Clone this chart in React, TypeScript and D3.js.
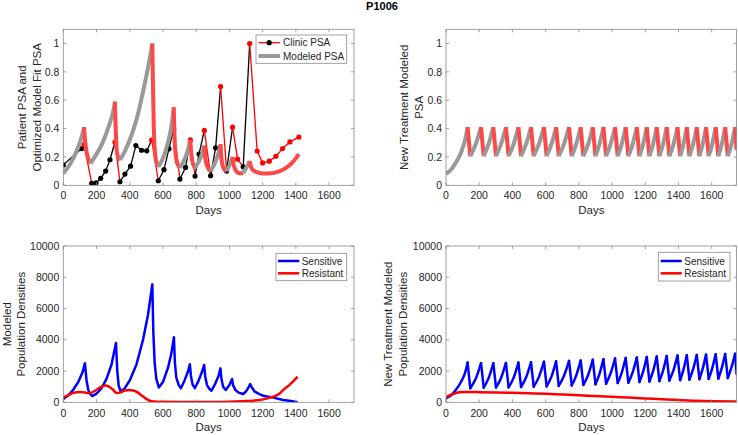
import React from "react";
import * as d3 from "d3";

// ---------------- DATA ----------------
const titleText = "P1006";
const xTicks = [0, 200, 400, 600, 800, 1000, 1200, 1400, 1600];
const psaTicks = [0, 0.2, 0.4, 0.6, 0.8, 1];
const popTicks = [0, 2000, 4000, 6000, 8000, 10000];

// Clinic PSA (top-left)
const clinicDays = [0, 111, 125, 171, 197, 225, 255, 281, 311, 341, 371, 405, 437, 471, 502, 532, 572, 606, 636, 665, 702, 736, 765, 793, 817, 849, 887, 917, 947, 983, 1019, 1049, 1083, 1122, 1167, 1200, 1240, 1280, 1320, 1364, 1418];
const clinicPSA = [0.144, 0.259, 0.287, 0.014, 0.018, 0.049, 0.10, 0.18, 0.305, 0.025, 0.079, 0.135, 0.28, 0.247, 0.243, 0.318, 0.032, 0.11, 0.257, 0.40, 0.044, 0.126, 0.32, 0.065, 0.22, 0.387, 0.068, 0.264, 0.696, 0.10, 0.41, 0.184, 0.13, 1.0, 0.242, 0.158, 0.17, 0.205, 0.259, 0.306, 0.34];
const clinicOn = [0, 0, 1, 0, 0, 0, 0, 0, 1, 0, 0, 0, 0, 0, 0, 1, 0, 0, 0, 1, 0, 0, 1, 0, 0, 1, 0, 0, 1, 0, 1, 1, 0, 1, 1, 1, 1, 1, 1, 1, 1];

// Modeled PSA (top-left)
const modelDays = [0, 30, 60, 90, 110, 125, 130, 137, 147, 155, 165, 200, 240, 275, 300, 311, 314, 318, 322, 330, 341, 370, 400, 440, 480, 510, 536, 540, 544, 549, 556, 572, 600, 630, 650, 665, 668, 672, 678, 688, 702, 725, 745, 765, 769, 775, 783, 793, 815, 835, 849, 853, 860, 872, 887, 910, 930, 947, 951, 958, 970, 983, 1000, 1019, 1024, 1032, 1045, 1060, 1083, 1100, 1122, 1130, 1145, 1170, 1210, 1250, 1290, 1330, 1370, 1400, 1418];
const modelPSA = [0.084, 0.13, 0.19, 0.27, 0.34, 0.41, 0.33, 0.26, 0.20, 0.175, 0.155, 0.22, 0.31, 0.42, 0.52, 0.59, 0.45, 0.32, 0.24, 0.20, 0.178, 0.24, 0.32, 0.46, 0.66, 0.83, 1.0, 0.7, 0.45, 0.28, 0.19, 0.13, 0.19, 0.30, 0.41, 0.55, 0.40, 0.28, 0.20, 0.15, 0.125, 0.17, 0.23, 0.32, 0.24, 0.18, 0.145, 0.125, 0.165, 0.22, 0.28, 0.21, 0.16, 0.12, 0.10, 0.15, 0.21, 0.29, 0.20, 0.145, 0.11, 0.10, 0.14, 0.20, 0.15, 0.12, 0.095, 0.085, 0.085, 0.12, 0.17, 0.13, 0.105, 0.09, 0.083, 0.085, 0.095, 0.115, 0.15, 0.19, 0.22];
const treatStart = [125, 311, 536, 665, 765, 849, 947, 1019, 1122];
const treatEnd = [165, 341, 572, 702, 793, 887, 983, 1083, 1418];

// New treatment schedule (right column)
const cyclePeakDays = [130, 211, 285, 361, 436, 512, 590, 663, 741, 811, 884, 948, 1018, 1082, 1149, 1209, 1269, 1329, 1394, 1450, 1510, 1566, 1624, 1681, 1741];
const cycleOffDays = [146, 227, 301, 377, 452, 528, 606, 679, 757, 827, 900, 964, 1034, 1098, 1165, 1225, 1285, 1345, 1410, 1466, 1526, 1582, 1640, 1697, 1750];
const riseMidDays = [179, 256, 331, 407, 482, 559, 635, 710, 784, 856, 924, 991, 1058, 1124, 1187, 1247, 1307, 1370, 1430, 1488, 1546, 1603, 1661, 1719];

// New treatment modeled PSA (top-right)
const ntInitDays = [0, 30, 60, 90, 115, 130];
const ntInitPSA = [0.08, 0.11, 0.16, 0.23, 0.32, 0.41];
const ntPeakPSA = [0.41, 0.41, 0.41, 0.41, 0.41, 0.41, 0.41, 0.41, 0.41, 0.41, 0.41, 0.41, 0.41, 0.41, 0.41, 0.41, 0.41, 0.41, 0.41, 0.41, 0.41, 0.41, 0.41, 0.41, 0.41];
const ntTroughPSA = [0.205, 0.205, 0.205, 0.205, 0.205, 0.205, 0.205, 0.205, 0.205, 0.205, 0.205, 0.205, 0.205, 0.205, 0.205, 0.205, 0.205, 0.205, 0.205, 0.205, 0.205, 0.205, 0.205, 0.205, 0.25];
const ntMidPSA = [0.29, 0.29, 0.29, 0.29, 0.29, 0.29, 0.29, 0.29, 0.29, 0.29, 0.29, 0.29, 0.29, 0.29, 0.29, 0.29, 0.29, 0.29, 0.29, 0.29, 0.29, 0.29, 0.29, 0.29];

// New treatment population (bottom-right)
const brInitDays = [0, 30, 60, 90, 115, 130];
const brInitSens = [250, 450, 800, 1300, 1900, 2550];
const brPeakSens = [2550, 2500, 2500, 2520, 2540, 2560, 2600, 2620, 2650, 2680, 2720, 2760, 2800, 2840, 2870, 2900, 2930, 2960, 2990, 3010, 3030, 3050, 3070, 3090, 3100];
const brTroughSens = [900, 940, 950, 960, 980, 1000, 1020, 1050, 1080, 1110, 1150, 1190, 1230, 1260, 1300, 1330, 1360, 1390, 1420, 1450, 1480, 1500, 1520, 1550, 1800];
const brMidSens = [1500, 1530, 1540, 1560, 1590, 1610, 1640, 1680, 1710, 1750, 1800, 1840, 1890, 1920, 1960, 1990, 2020, 2060, 2090, 2120, 2150, 2170, 2200, 2230];
const brResDays = [0, 40, 80, 120, 200, 300, 400, 500, 600, 700, 800, 900, 1000, 1100, 1200, 1300, 1400, 1500, 1600, 1750];
const brResVals = [330, 520, 640, 660, 650, 630, 610, 580, 550, 500, 450, 400, 350, 300, 250, 190, 140, 100, 70, 45];

// Fitted population (bottom-left)
const blSensDays = [0, 30, 60, 90, 115, 130, 140, 150, 160, 175, 200, 230, 260, 290, 317, 325, 333, 345, 370, 400, 440, 480, 510, 536, 542, 550, 560, 575, 600, 630, 650, 666, 672, 680, 695, 708, 730, 750, 762, 768, 778, 792, 815, 835, 848, 855, 865, 880, 892, 915, 935, 946, 952, 962, 978, 1000, 1016, 1022, 1035, 1055, 1083, 1100, 1115, 1125, 1135, 1153, 1180, 1203, 1264, 1324, 1370, 1410];
const blSensVals = [213, 450, 800, 1300, 1900, 2500, 1400, 800, 550, 400, 550, 900, 1500, 2400, 3800, 2000, 1100, 680, 900, 1400, 2400, 4000, 5600, 7550, 4500, 2500, 1500, 950, 1300, 2200, 3100, 4160, 2500, 1600, 1100, 900, 1400, 1950, 2430, 1700, 1150, 900, 1400, 1950, 2390, 1600, 1100, 850, 740, 1200, 1700, 2170, 1500, 1000, 790, 1100, 1490, 1100, 800, 620, 530, 700, 950, 1170, 950, 680, 520, 420, 300, 150, 80, 10];
const blResDays = [0, 30, 60, 100, 130, 150, 170, 200, 230, 255, 275, 300, 320, 340, 370, 395, 420, 445, 470, 495, 520, 545, 600, 700, 800, 900, 1000, 1100, 1183, 1230, 1264, 1300, 1324, 1360, 1390, 1410];
const blResVals = [300, 450, 600, 660, 620, 590, 620, 800, 1000, 1070, 1000, 800, 600, 620, 750, 790, 760, 650, 450, 250, 100, 50, 30, 20, 20, 25, 40, 80, 150, 250, 360, 550, 790, 1100, 1400, 1640];

// ---------------- STYLE ----------------
const FONT = "'Liberation Sans', Arial, Helvetica, sans-serif";
const TXT = "#262626";
const AXC = "#8a8a8a";
const GRAY = "#999999";
const LRED = "#ff4747";
const RED = "#ff0000";
const BLUE = "#0000ff";

type Box = { l: number; r: number; t: number; b: number };
const TL: Box = { l: 63.3, r: 354, t: 29.3, b: 185.3 };
const TR: Box = { l: 446, r: 736.6, t: 29.3, b: 185.3 };
const BL: Box = { l: 63.3, r: 354, t: 246, b: 402.3 };
const BR: Box = { l: 446, r: 736.6, t: 246, b: 402.3 };

type Pt = [number, number];

function Frame(props: {
  b: Box; id: string; x: any; y: any; yTicks: number[];
  ylabels: string[]; ylabX: number[]; xlabY: number; tickY: number;
  children?: any;
}) {
  const { b, id, x, y, yTicks, ylabels, ylabX, xlabY, tickY } = props;
  const tl = 3;
  const cy = (b.t + b.b) / 2;
  return (
    <g>
      <defs>
        <clipPath id={id}>
          <rect x={b.l} y={b.t} width={b.r - b.l} height={b.b - b.t} />
        </clipPath>
      </defs>
      <g clipPath={`url(#${id})`}>{props.children}</g>
      <rect x={b.l} y={b.t} width={b.r - b.l} height={b.b - b.t} fill="none" stroke={AXC} strokeWidth={0.8} />
      {xTicks.map((t) => (
        <g key={"x" + t}>
          <line x1={x(t)} x2={x(t)} y1={b.b} y2={b.b - tl} stroke={AXC} strokeWidth={0.8} />
          <line x1={x(t)} x2={x(t)} y1={b.t} y2={b.t + tl} stroke={AXC} strokeWidth={0.8} />
          <text x={x(t)} y={tickY} textAnchor="middle" fontSize={10.5} fill={TXT} fontFamily={FONT}>{t}</text>
        </g>
      ))}
      {yTicks.map((t) => (
        <g key={"y" + t}>
          <line x1={b.l} x2={b.l + tl} y1={y(t)} y2={y(t)} stroke={AXC} strokeWidth={0.8} />
          <line x1={b.r} x2={b.r - tl} y1={y(t)} y2={y(t)} stroke={AXC} strokeWidth={0.8} />
          <text x={b.l - 4} y={y(t) + 3.7} textAnchor="end" fontSize={10.5} fill={TXT} fontFamily={FONT}>{t}</text>
        </g>
      ))}
      <text x={(b.l + b.r) / 2} y={xlabY} textAnchor="middle" fontSize={11.5} fill={TXT} fontFamily={FONT}>Days</text>
      {ylabels.map((s, i) => (
        <text key={s} transform={`translate(${ylabX[i]},${cy}) rotate(-90)`} textAnchor="middle" fontSize={11.5} fill={TXT} fontFamily={FONT}>{s}</text>
      ))}
    </g>
  );
}

function pieces(days: number[], vals: number[], starts: number[], ends: number[]) {
  const bounds = Array.from(new Set([days[0], ...starts, ...ends, days[days.length - 1]])).sort((a, b) => a - b);
  const out: { pts: Pt[]; on: boolean }[] = [];
  for (let k = 0; k < bounds.length - 1; k++) {
    const a = bounds[k], bb = bounds[k + 1];
    const pts: Pt[] = [];
    days.forEach((d, i) => { if (d >= a && d <= bb) pts.push([d, vals[i]]); });
    if (pts.length < 2) continue;
    const on = starts.some((s, i) => s <= a && bb <= ends[i]);
    out.push({ pts, on });
  }
  return out;
}

export default function App() {
  const xTL = d3.scaleLinear().domain([0, 1750]).range([TL.l, TL.r]);
  const yTL = d3.scaleLinear().domain([0, 1.1]).range([TL.b, TL.t]);
  const xTR = d3.scaleLinear().domain([0, 1750]).range([TR.l, TR.r]);
  const yTR = d3.scaleLinear().domain([0, 1.1]).range([TR.b, TR.t]);
  const xBL = d3.scaleLinear().domain([0, 1750]).range([BL.l, BL.r]);
  const yBL = d3.scaleLinear().domain([0, 10000]).range([BL.b, BL.t]);
  const xBR = d3.scaleLinear().domain([0, 1750]).range([BR.l, BR.r]);
  const yBR = d3.scaleLinear().domain([0, 10000]).range([BR.b, BR.t]);

  const mk = (x: any, y: any, smooth: boolean) =>
    d3.line<Pt>().x((d) => x(d[0])).y((d) => y(d[1])).curve(smooth ? d3.curveMonotoneX : d3.curveLinear);

  // top-left model pieces
  const modelPieces = pieces(modelDays, modelPSA, treatStart, treatEnd);
  const lineTL = mk(xTL, yTL, true);
  const lineTLlin = mk(xTL, yTL, false);

  // top-right pieces
  const ntPieces: { pts: Pt[]; on: boolean }[] = [];
  ntPieces.push({ pts: ntInitDays.map((d, i) => [d, ntInitPSA[i]] as Pt), on: false });
  cyclePeakDays.forEach((p, i) => {
    ntPieces.push({ pts: [[p, ntPeakPSA[i]], [cycleOffDays[i], ntTroughPSA[i]]], on: true });
    if (i < cyclePeakDays.length - 1) {
      ntPieces.push({ pts: [[cycleOffDays[i], ntTroughPSA[i]], [riseMidDays[i], ntMidPSA[i]], [cyclePeakDays[i + 1], ntPeakPSA[i + 1]]], on: false });
    }
  });
  const lineTR = mk(xTR, yTR, false);
  const lineTRs = mk(xTR, yTR, true);

  // bottom-right blue: rises smooth, drops straight
  const lineBR = mk(xBR, yBR, false);
  const lineBRs = mk(xBR, yBR, true);
  const brSensPieces: Pt[][] = [];
  brSensPieces.push(brInitDays.map((d, i) => [d, brInitSens[i]] as Pt));
  cyclePeakDays.forEach((p, i) => {
    brSensPieces.push([[p, brPeakSens[i]], [cycleOffDays[i], brTroughSens[i]]]);
    if (i < cyclePeakDays.length - 1) {
      brSensPieces.push([[cycleOffDays[i], brTroughSens[i]], [riseMidDays[i], brMidSens[i]], [cyclePeakDays[i + 1], brPeakSens[i + 1]]]);
    }
  });

  const lineBL = mk(xBL, yBL, false);
  const lineBLs = mk(xBL, yBL, true);

  const clinicPts = clinicDays.map((d, i) => [d, clinicPSA[i]] as Pt);

  return (
    <svg width={738} height={435} style={{ position: "absolute", left: 0, top: 0, background: "#fff" }} fontFamily={FONT}>
      <rect x={0} y={0} width={738} height={435} fill="#fff" />
      <text x={382} y={9.5} textAnchor="middle" fontSize={11} fontWeight="bold" fill="#000" fontFamily={FONT}>{titleText}</text>

      {/* Top-left */}
      <Frame b={TL} id="cTL" x={xTL} y={yTL} yTicks={psaTicks} ylabels={["Patient PSA and", "Optimized Model Fit PSA"]} ylabX={[25.5, 40.5]} xlabY={213.5} tickY={199}>
        {clinicPts.slice(0, -1).map((p, i) => (
          <line key={"cs" + i} x1={xTL(p[0])} y1={yTL(p[1])} x2={xTL(clinicPts[i + 1][0])} y2={yTL(clinicPts[i + 1][1])} stroke={clinicOn[i] ? RED : "#000"} strokeWidth={1.3} />
        ))}
        {clinicPts.map((p, i) => (
          <circle key={"cp" + i} cx={xTL(p[0])} cy={yTL(p[1])} r={2.6} fill={clinicOn[i] ? RED : "#000"} />
        ))}
        {modelPieces.map((pc, i) => (
          <path key={"m" + i} d={(pc.pts.length > 2 ? lineTL : lineTLlin)(pc.pts) || ""} fill="none" stroke={pc.on ? LRED : GRAY} strokeWidth={4} strokeLinejoin="round" />
        ))}
      </Frame>
      <g>
        <rect x={256} y={35} width={90.7} height={28.3} fill="#fff" stroke={AXC} strokeWidth={0.8} />
        <line x1={258.5} x2={280} y1={42.7} y2={42.7} stroke={RED} strokeWidth={1.3} />
        <circle cx={269.2} cy={42.7} r={2.6} fill="#000" />
        <text x={283} y={46.2} fontSize={10} fill={TXT} fontFamily={FONT}>Clinic PSA</text>
        <line x1={258.5} x2={280} y1={56} y2={56} stroke={GRAY} strokeWidth={4} />
        <text x={283} y={59.5} fontSize={10} fill={TXT} fontFamily={FONT}>Modeled PSA</text>
      </g>

      {/* Top-right */}
      <Frame b={TR} id="cTR" x={xTR} y={yTR} yTicks={psaTicks} ylabels={["New Treatment Modeled", "PSA"]} ylabX={[407.5, 423]} xlabY={213.5} tickY={199}>
        {ntPieces.map((pc, i) => (
          <path key={"n" + i} d={(pc.pts.length > 2 ? lineTRs : lineTR)(pc.pts) || ""} fill="none" stroke={pc.on ? LRED : GRAY} strokeWidth={4} />
        ))}
      </Frame>

      {/* Bottom-left */}
      <Frame b={BL} id="cBL" x={xBL} y={yBL} yTicks={popTicks} ylabels={["Modeled", "Population Densities"]} ylabX={[10.5, 25]} xlabY={431} tickY={417}>
        <path d={lineBL(blSensDays.map((d, i) => [d, blSensVals[i]] as Pt)) || ""} fill="none" stroke={BLUE} strokeWidth={2.5} strokeLinejoin="round" />
        <path d={lineBLs(blResDays.map((d, i) => [d, blResVals[i]] as Pt)) || ""} fill="none" stroke={RED} strokeWidth={2.5} />
      </Frame>
      <g>
        <rect x={276} y={253.3} width={70.7} height={27.4} fill="#fff" stroke={AXC} strokeWidth={0.8} />
        <line x1={278} x2={299.3} y1={261} y2={261} stroke={BLUE} strokeWidth={2.5} />
        <text x={301.7} y={264.5} fontSize={10} fill={TXT} fontFamily={FONT}>Sensitive</text>
        <line x1={278} x2={299.3} y1={273.3} y2={273.3} stroke={RED} strokeWidth={2.5} />
        <text x={301.7} y={276.8} fontSize={10} fill={TXT} fontFamily={FONT}>Resistant</text>
      </g>

      {/* Bottom-right */}
      <Frame b={BR} id="cBR" x={xBR} y={yBR} yTicks={popTicks} ylabels={["New Treatment Modeled", "Population Densities"]} ylabX={[392, 407]} xlabY={431} tickY={417}>
        {brSensPieces.map((pts, i) => (
          <path key={"b" + i} d={(pts.length > 2 ? lineBRs : lineBR)(pts) || ""} fill="none" stroke={BLUE} strokeWidth={2.5} strokeLinejoin="round" strokeLinecap="round" />
        ))}
        <path d={lineBRs(brResDays.map((d, i) => [d, brResVals[i]] as Pt)) || ""} fill="none" stroke={RED} strokeWidth={2.5} />
      </Frame>
      <g>
        <rect x={658.3} y={252.3} width={71.7} height={28.7} fill="#fff" stroke={AXC} strokeWidth={0.8} />
        <line x1={660.7} x2={681.7} y1={261} y2={261} stroke={BLUE} strokeWidth={2.5} />
        <text x={684.3} y={264.5} fontSize={10} fill={TXT} fontFamily={FONT}>Sensitive</text>
        <line x1={660.7} x2={681.7} y1={273.3} y2={273.3} stroke={RED} strokeWidth={2.5} />
        <text x={684.3} y={276.8} fontSize={10} fill={TXT} fontFamily={FONT}>Resistant</text>
      </g>
    </svg>
  );
}
